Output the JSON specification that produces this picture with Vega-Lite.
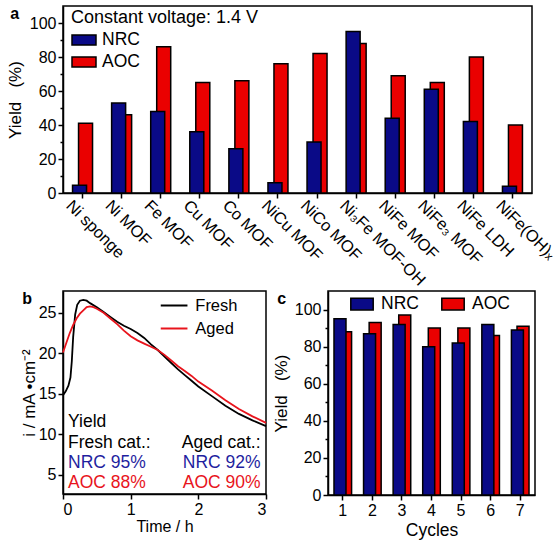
{
  "$schema": "https://vega.github.io/schema/vega-lite/v6.json",
  "padding": 5,
  "datasets": {
    "screen": [
      {"catalyst": "Ni sponge", "series": "NRC", "yield": 4.5},
      {"catalyst": "Ni sponge", "series": "AOC", "yield": 41},
      {"catalyst": "Ni MOF", "series": "NRC", "yield": 53},
      {"catalyst": "Ni MOF", "series": "AOC", "yield": 46},
      {"catalyst": "Fe MOF", "series": "NRC", "yield": 48},
      {"catalyst": "Fe MOF", "series": "AOC", "yield": 86},
      {"catalyst": "Cu MOF", "series": "NRC", "yield": 36},
      {"catalyst": "Cu MOF", "series": "AOC", "yield": 65},
      {"catalyst": "Co MOF", "series": "NRC", "yield": 26},
      {"catalyst": "Co MOF", "series": "AOC", "yield": 66},
      {"catalyst": "NiCu MOF", "series": "NRC", "yield": 6},
      {"catalyst": "NiCu MOF", "series": "AOC", "yield": 76},
      {"catalyst": "NiCo MOF", "series": "NRC", "yield": 30},
      {"catalyst": "NiCo MOF", "series": "AOC", "yield": 82},
      {"catalyst": "Ni₃Fe MOF-OH", "series": "NRC", "yield": 95},
      {"catalyst": "Ni₃Fe MOF-OH", "series": "AOC", "yield": 88},
      {"catalyst": "NiFe MOF", "series": "NRC", "yield": 44},
      {"catalyst": "NiFe MOF", "series": "AOC", "yield": 69},
      {"catalyst": "NiFe₃ MOF", "series": "NRC", "yield": 61},
      {"catalyst": "NiFe₃ MOF", "series": "AOC", "yield": 65},
      {"catalyst": "NiFe LDH", "series": "NRC", "yield": 42},
      {"catalyst": "NiFe LDH", "series": "AOC", "yield": 80},
      {"catalyst": "NiFe(OH)ₓ", "series": "NRC", "yield": 4},
      {"catalyst": "NiFe(OH)ₓ", "series": "AOC", "yield": 40}
    ],
    "current": [
      {"sample": "Fresh", "t": 0.0, "i": 14.8},
      {"sample": "Fresh", "t": 0.04, "i": 15.3},
      {"sample": "Fresh", "t": 0.08, "i": 16.0},
      {"sample": "Fresh", "t": 0.11, "i": 17.0},
      {"sample": "Fresh", "t": 0.13, "i": 19.0},
      {"sample": "Fresh", "t": 0.15, "i": 22.0},
      {"sample": "Fresh", "t": 0.18, "i": 24.8},
      {"sample": "Fresh", "t": 0.21, "i": 26.0},
      {"sample": "Fresh", "t": 0.25, "i": 26.5},
      {"sample": "Fresh", "t": 0.3, "i": 26.6},
      {"sample": "Fresh", "t": 0.35, "i": 26.5},
      {"sample": "Fresh", "t": 0.4, "i": 26.2},
      {"sample": "Fresh", "t": 0.5, "i": 25.7},
      {"sample": "Fresh", "t": 0.6, "i": 25.1},
      {"sample": "Fresh", "t": 0.7, "i": 24.5},
      {"sample": "Fresh", "t": 0.8, "i": 23.9},
      {"sample": "Fresh", "t": 0.9, "i": 23.4},
      {"sample": "Fresh", "t": 1.0, "i": 23.0},
      {"sample": "Fresh", "t": 1.1, "i": 22.5},
      {"sample": "Fresh", "t": 1.2, "i": 21.9},
      {"sample": "Fresh", "t": 1.3, "i": 21.1},
      {"sample": "Fresh", "t": 1.4, "i": 20.4},
      {"sample": "Fresh", "t": 1.5, "i": 19.6},
      {"sample": "Fresh", "t": 1.6, "i": 18.8},
      {"sample": "Fresh", "t": 1.7, "i": 18.0},
      {"sample": "Fresh", "t": 1.8, "i": 17.3},
      {"sample": "Fresh", "t": 1.9, "i": 16.6},
      {"sample": "Fresh", "t": 2.0, "i": 15.9},
      {"sample": "Fresh", "t": 2.2, "i": 14.7},
      {"sample": "Fresh", "t": 2.4, "i": 13.5},
      {"sample": "Fresh", "t": 2.6, "i": 12.5},
      {"sample": "Fresh", "t": 2.8, "i": 11.7},
      {"sample": "Fresh", "t": 3.0, "i": 11.0},
      {"sample": "Aged", "t": 0.0, "i": 20.1},
      {"sample": "Aged", "t": 0.05, "i": 21.3},
      {"sample": "Aged", "t": 0.1, "i": 22.5},
      {"sample": "Aged", "t": 0.15, "i": 23.5},
      {"sample": "Aged", "t": 0.2, "i": 24.3},
      {"sample": "Aged", "t": 0.25, "i": 24.9},
      {"sample": "Aged", "t": 0.3, "i": 25.3},
      {"sample": "Aged", "t": 0.35, "i": 25.7},
      {"sample": "Aged", "t": 0.4, "i": 25.8},
      {"sample": "Aged", "t": 0.45, "i": 25.7},
      {"sample": "Aged", "t": 0.5, "i": 25.5},
      {"sample": "Aged", "t": 0.6, "i": 25.0},
      {"sample": "Aged", "t": 0.7, "i": 24.3},
      {"sample": "Aged", "t": 0.8, "i": 23.6},
      {"sample": "Aged", "t": 0.9, "i": 22.8},
      {"sample": "Aged", "t": 1.0, "i": 22.1},
      {"sample": "Aged", "t": 1.1, "i": 21.6},
      {"sample": "Aged", "t": 1.2, "i": 21.2},
      {"sample": "Aged", "t": 1.3, "i": 20.8},
      {"sample": "Aged", "t": 1.4, "i": 20.4},
      {"sample": "Aged", "t": 1.5, "i": 19.8},
      {"sample": "Aged", "t": 1.6, "i": 19.1},
      {"sample": "Aged", "t": 1.7, "i": 18.4},
      {"sample": "Aged", "t": 1.8, "i": 17.8},
      {"sample": "Aged", "t": 1.9, "i": 17.2},
      {"sample": "Aged", "t": 2.0, "i": 16.5},
      {"sample": "Aged", "t": 2.2, "i": 15.4},
      {"sample": "Aged", "t": 2.4, "i": 14.2},
      {"sample": "Aged", "t": 2.6, "i": 13.1},
      {"sample": "Aged", "t": 2.8, "i": 12.2},
      {"sample": "Aged", "t": 3.0, "i": 11.4}
    ],
    "notes": [
      {"column": "Fresh", "series": "Yield", "t": 0.074, "i": 11.5, "label": "Yield"},
      {"column": "Fresh", "series": "Yield", "t": 0.074, "i": 8.9, "label": "Fresh cat.:"},
      {"column": "Fresh", "series": "NRC", "t": 0.074, "i": 6.4, "label": "NRC 95%"},
      {"column": "Fresh", "series": "AOC", "t": 0.074, "i": 3.9, "label": "AOC 88%"},
      {"column": "Aged", "series": "Yield", "t": 2.92, "i": 8.9, "label": "Aged cat.:"},
      {"column": "Aged", "series": "NRC", "t": 2.92, "i": 6.4, "label": "NRC 92%"},
      {"column": "Aged", "series": "AOC", "t": 2.92, "i": 3.9, "label": "AOC 90%"}
    ],
    "cycles": [
      {"cycle": "1", "series": "NRC", "yield": 95},
      {"cycle": "1", "series": "AOC", "yield": 88},
      {"cycle": "2", "series": "NRC", "yield": 87},
      {"cycle": "2", "series": "AOC", "yield": 93},
      {"cycle": "3", "series": "NRC", "yield": 92},
      {"cycle": "3", "series": "AOC", "yield": 97},
      {"cycle": "4", "series": "NRC", "yield": 80},
      {"cycle": "4", "series": "AOC", "yield": 90},
      {"cycle": "5", "series": "NRC", "yield": 82},
      {"cycle": "5", "series": "AOC", "yield": 90},
      {"cycle": "6", "series": "NRC", "yield": 92},
      {"cycle": "6", "series": "AOC", "yield": 86},
      {"cycle": "7", "series": "NRC", "yield": 89},
      {"cycle": "7", "series": "AOC", "yield": 91}
    ]
  },
  "resolve": {"scale": {"fill": "independent", "stroke": "independent"}, "legend": {"fill": "independent", "stroke": "independent"}},
  "vconcat": [
    {
      "width": 469,
      "height": 187,
      "title": {"text": "a", "dy": 20, "dx": 4},
      "data": {"name": "screen"},
      "encoding": {
        "x": {
          "field": "catalyst",
          "type": "nominal",
          "sort": null,
          "scale": {"paddingInner": 0, "paddingOuter": 0},
          "axis": {"title": null, "labelAngle": 45, "labelAlign": "left", "labelBaseline": "top", "labelOffset": -8, "labelPadding": -1, "labelFontSize": 16.5}
        },
        "y": {
          "field": "yield",
          "type": "quantitative",
          "scale": {"domain": [0, 110], "nice": false},
          "axis": {
            "title": "Yield \u00a0\u00a0(%)",
            "titleFontSize": 17,
            "titlePadding": 5,
            "values": [0, 10, 20, 30, 40, 50, 60, 70, 80, 90, 100],
            "labelExpr": "datum.value % 20 == 0 ? datum.label : ''",
            "tickSize": {"condition": {"test": "datum.value % 20 != 0", "value": 3}, "value": 5}
          }
        },
        "fill": {
          "field": "series",
          "type": "nominal",
          "scale": {"domain": ["NRC", "AOC"], "range": ["#0a0a87", "#ea0000"]},
          "legend": {
            "title": "Constant voltage: 1.4 V",
            "titleFontSize": 18,
            "labelFontSize": 17.5,
            "orient": "none",
            "legendX": 8,
            "legendY": 3,
            "symbolType": "M-1,-0.42H1V0.42H-1Z",
            "symbolSize": 576,
            "symbolStrokeColor": "black",
            "symbolStrokeWidth": 1.5,
            "symbolOpacity": 1,
            "labelOffset": 5,
            "rowPadding": -7,
            "titlePadding": 0,
            "titleLimit": 400
          }
        }
      },
      "layer": [
        {
          "transform": [{"filter": "datum.series == 'AOC'"}],
          "mark": {"type": "bar", "width": 14, "xOffset": 3, "stroke": "black", "strokeWidth": 1.5, "opacity": 1}
        },
        {
          "transform": [{"filter": "datum.series == 'NRC'"}],
          "mark": {"type": "bar", "width": 14, "xOffset": -3, "stroke": "black", "strokeWidth": 1.5, "opacity": 1}
        }
      ]
    },
    {
      "spacing": 0,
      "resolve": {"scale": {"fill": "independent", "stroke": "independent"}, "legend": {"fill": "independent", "stroke": "independent"}},
      "hconcat": [
        {
          "width": 203,
          "height": 203,
          "title": {"text": "b", "dy": 20, "dx": 2},
          "resolve": {"scale": {"fill": "independent"}},
          "layer": [
            {
              "data": {"name": "current"},
              "mark": {"type": "line", "strokeWidth": 1.8},
              "encoding": {
                "x": {
                  "field": "t",
                  "type": "quantitative",
                  "scale": {"domain": [0, 3], "nice": false},
                  "axis": {
                    "title": "Time / h",
                    "titlePadding": 1,
                    "values": [0, 0.5, 1, 1.5, 2, 2.5, 3],
                    "labelExpr": "datum.value % 1 == 0 ? toString(datum.value) : ''",
                    "tickSize": {"condition": {"test": "datum.value % 1 != 0", "value": 3}, "value": 5}
                  }
                },
                "y": {
                  "field": "i",
                  "type": "quantitative",
                  "scale": {"domain": [2.6, 27.7], "nice": false, "zero": false},
                  "axis": {
                    "title": "i / mA •cm⁻²",
                    "titleFontSize": 17,
                    "titlePadding": 0,
                    "values": [5, 7.5, 10, 12.5, 15, 17.5, 20, 22.5, 25, 27.5],
                    "labelExpr": "datum.value % 5 == 0 ? toString(datum.value) : ''",
                    "tickSize": {"condition": {"test": "datum.value % 5 != 0", "value": 3}, "value": 5}
                  }
                },
                "stroke": {
                  "field": "sample",
                  "type": "nominal",
                  "scale": {"domain": ["Fresh", "Aged"], "range": ["black", "#e8141c"]},
                  "legend": {
                    "title": null,
                    "orient": "none",
                    "legendX": 96.6,
                    "legendY": 0,
                    "symbolType": "stroke",
                    "symbolSize": 713,
                    "symbolStrokeWidth": 2,
                    "labelFontSize": 16.5,
                    "labelOffset": 6.7,
                    "rowPadding": -12
                  }
                }
              }
            },
            {
              "data": {"name": "notes"},
              "transform": [{"filter": "datum.column == 'Fresh'"}],
              "mark": {"type": "text", "align": "left", "baseline": "middle", "fontSize": 17.5},
              "encoding": {
                "x": {"field": "t", "type": "quantitative"},
                "y": {"field": "i", "type": "quantitative"},
                "text": {"field": "label"},
                "fill": {
                  "field": "series",
                  "type": "nominal",
                  "scale": {"domain": ["Yield", "NRC", "AOC"], "range": ["black", "#1f1f9f", "#e8141c"]},
                  "legend": null
                }
              }
            },
            {
              "data": {"name": "notes"},
              "transform": [{"filter": "datum.column == 'Aged'"}],
              "mark": {"type": "text", "align": "right", "baseline": "middle", "fontSize": 17.5},
              "encoding": {
                "x": {"field": "t", "type": "quantitative"},
                "y": {"field": "i", "type": "quantitative"},
                "text": {"field": "label"},
                "fill": {
                  "field": "series",
                  "type": "nominal",
                  "scale": {"domain": ["Yield", "NRC", "AOC"], "range": ["black", "#1f1f9f", "#e8141c"]},
                  "legend": null
                }
              }
            }
          ]
        },
        {
          "width": 207,
          "height": 204,
          "title": {"text": "c", "dy": 20, "dx": 5},
          "data": {"name": "cycles"},
          "encoding": {
            "x": {
              "field": "cycle",
              "type": "ordinal",
              "scale": {"paddingInner": 0, "paddingOuter": 0},
              "axis": {"title": "Cycles", "titleFontSize": 17.5, "labelAngle": 0, "titlePadding": 3}
            },
            "y": {
              "field": "yield",
              "type": "quantitative",
              "scale": {"domain": [0, 110], "nice": false},
              "axis": {
                "title": "Yield \u00a0\u00a0(%)",
                "titleFontSize": 17,
                "titlePadding": 4,
                "values": [0, 10, 20, 30, 40, 50, 60, 70, 80, 90, 100],
                "labelExpr": "datum.value % 20 == 0 ? datum.label : ''",
                "tickSize": {"condition": {"test": "datum.value % 20 != 0", "value": 3}, "value": 5}
              }
            },
            "fill": {
              "field": "series",
              "type": "nominal",
              "scale": {"domain": ["NRC", "AOC"], "range": ["#0a0a87", "#ea0000"]},
              "legend": {
                "title": null,
                "orient": "none",
                "direction": "horizontal",
                "legendX": 22,
                "legendY": 1,
                "symbolType": "M-1,-0.52H1V0.52H-1Z",
                "symbolSize": 502,
                "symbolStrokeColor": "black",
                "symbolStrokeWidth": 1.5,
                "symbolOpacity": 1,
                "labelFontSize": 17.5,
                "labelOffset": 7,
                "columnPadding": 19
              }
            }
          },
          "layer": [
            {
              "transform": [{"filter": "datum.series == 'AOC'"}],
              "mark": {"type": "bar", "width": 12, "xOffset": 2.8, "stroke": "black", "strokeWidth": 1.5, "opacity": 1}
            },
            {
              "transform": [{"filter": "datum.series == 'NRC'"}],
              "mark": {"type": "bar", "width": 12, "xOffset": -2.8, "stroke": "black", "strokeWidth": 1.5, "opacity": 1}
            }
          ]
        }
      ]
    }
  ],
  "spacing": 0,
  "config": {
    "font": "Liberation Sans",
    "view": {"stroke": "black", "strokeWidth": 1.5},
    "axis": {
      "domainColor": "black",
      "domainWidth": 1.5,
      "tickColor": "black",
      "tickWidth": 1.5,
      "tickSize": 5,
      "grid": false,
      "labelFont": "Liberation Sans",
      "labelFontSize": 16,
      "labelColor": "black",
      "labelPadding": 2,
      "titleFont": "Liberation Sans",
      "titleFontSize": 16,
      "titleFontWeight": "normal",
      "titleColor": "black",
      "titlePadding": 3
    },
    "legend": {
      "labelFont": "Liberation Sans",
      "labelFontSize": 16,
      "labelColor": "black",
      "titleFont": "Liberation Sans",
      "titleFontSize": 16,
      "titleFontWeight": "normal",
      "titleColor": "black",
      "padding": 0
    },
    "title": {
      "font": "Liberation Sans",
      "fontSize": 16,
      "fontWeight": "bold",
      "color": "black",
      "anchor": "start",
      "frame": "bounds",
      "offset": 0
    },
    "text": {"font": "Liberation Sans"}
  }
}
